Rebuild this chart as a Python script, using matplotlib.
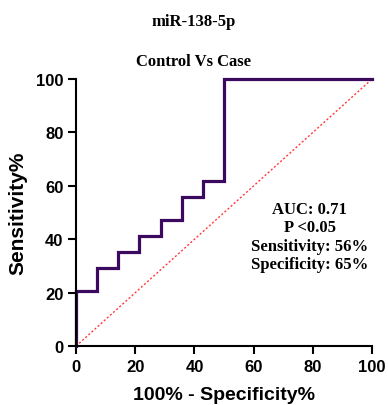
import matplotlib
matplotlib.use("Agg")
import matplotlib.pyplot as plt

# ROC step curve (100% - specificity, sensitivity)
fpr = [0, 0, 7.14, 7.14, 14.29, 14.29, 21.43, 21.43, 28.57, 28.57, 35.71, 35.71, 42.86, 42.86, 50, 50, 100]
tpr = [0, 20.59, 20.59, 29.41, 29.41, 35.29, 35.29, 41.18, 41.18, 47.06, 47.06, 55.88, 55.88, 61.76, 61.76, 100, 100]
ticks = [0, 20, 40, 60, 80, 100]
stats = ["AUC: 0.71", "P <0.05", "Sensitivity: 56%", "Specificity: 65%"]

fig = plt.figure(figsize=(3.88, 4.06), dpi=100)
ax = fig.add_axes([0.196, 0.145, 0.763, 0.658])

ax.plot([0, 100], [0, 100], color="#ff3b3b", linestyle=(0, (1.5, 1.5)), linewidth=1.0)
ax.plot(fpr, tpr, color="#3b0a5e", linewidth=2.3, solid_joinstyle="miter", clip_on=False)

ax.set_xlim(0, 100)
ax.set_ylim(0, 100)
ax.set_xticks(ticks)
ax.set_yticks(ticks)
for s in ["top", "right"]:
    ax.spines[s].set_visible(False)
for s in ["left", "bottom"]:
    ax.spines[s].set_linewidth(1.5)
ax.tick_params(direction="out", length=5.5, width=1.5, labelsize=12, pad=3.5)
for lab in ax.get_xticklabels() + ax.get_yticklabels():
    lab.set_fontweight("bold")
    lab.set_family("Liberation Sans")

ax.set_xlabel("100% - Specificity%", fontsize=14, fontweight="bold", family="Liberation Sans", labelpad=9)
ax.set_ylabel("Sensitivity%", fontsize=15, fontweight="bold", family="Liberation Sans", labelpad=6)

fig.text(0.5, 0.946, "miR-138-5p", ha="center", va="center", fontsize=12,
         fontweight="bold", family="Liberation Serif")
fig.text(0.5, 0.847, "Control Vs Case", ha="center", va="center", fontsize=12,
         fontweight="bold", family="Liberation Serif")

ax.text(79, 41, "\n".join(stats), ha="center", va="center", fontsize=12,
        fontweight="bold", family="Liberation Serif", linespacing=1.2)

fig.savefig("out.png", dpi=100)
